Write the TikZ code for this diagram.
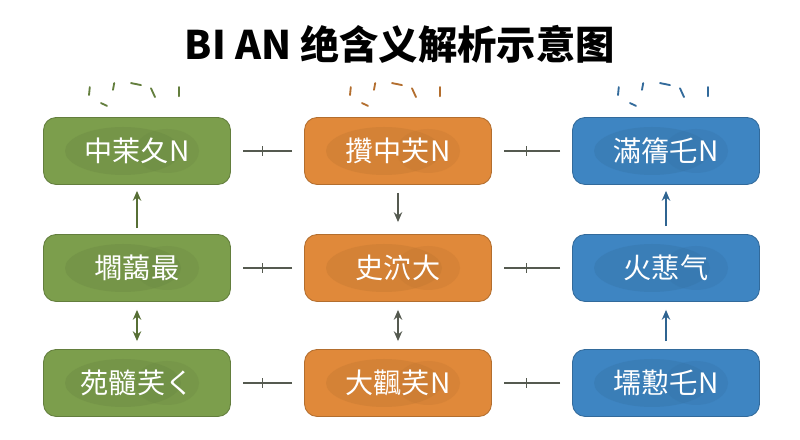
\documentclass[tikz,border=0pt]{standalone}
\usepackage{fontspec}
\newfontfamily\cjk{Noto Sans CJK SC}
\usetikzlibrary{arrows.meta,calc}
\definecolor{grn}{HTML}{7C9E4C}
\definecolor{org}{HTML}{E0893A}
\definecolor{blu}{HTML}{3E85C2}
\definecolor{lnk}{HTML}{555A50}
\tikzset{
  box/.style={draw=#1!80!black, fill=#1, rounded corners=9pt, minimum width=4.675cm, minimum height=1.675cm, line width=0.6pt},
  lbl/.style={text=white, font=\cjk\fontsize{20}{24}\selectfont},
  link/.style={draw=lnk, line width=0.9pt},
  arr/.style={line width=1pt, -{Stealth[length=7pt,width=6pt]}},
  darr/.style={line width=1pt, {Stealth[length=7pt,width=6pt]}-{Stealth[length=7pt,width=6pt]}},
  spark/.style={line width=1.3pt, line cap=round}
}
\begin{document}
\begin{tikzpicture}
\useasboundingbox (0,0) rectangle (20,11);
\fill[white] (0,0) rectangle (20,11);
\node (title) at (10,9.9) {\cjk\bfseries\fontsize{28}{32}\selectfont BI AN 绝含义解析示意图};

% boxes
\node[box=grn] (g1) at (3.425,7.225) {};
\node[box=org] (o1) at (9.95,7.225) {};
\node[box=blu] (b1) at (16.65,7.225) {};
\node[box=grn] (g2) at (3.425,4.3) {};
\node[box=org] (o2) at (9.95,4.3) {};
\node[box=blu] (b2) at (16.65,4.3) {};
\node[box=grn] (g3) at (3.425,1.425) {};
\node[box=org] (o3) at (9.95,1.425) {};
\node[box=blu] (b3) at (16.65,1.425) {};

% inner blobs
\foreach \n/\c in {g1/grn,o1/org,b1/blu,g2/grn,o2/org,b2/blu,g3/grn,o3/org,b3/blu}{
  \fill[\c!85!black, opacity=0.35] ([xshift=-0.35cm]\n.center) ellipse (1.45cm and 0.6cm);
  \fill[\c!85!black, opacity=0.25] ([xshift=0.75cm]\n.center) ellipse (0.8cm and 0.55cm);
}

% sparks above top row
\foreach \n/\c in {g1/grn,o1/org,b1/blu}{
  \begin{scope}[shift={(\n.north)}, spark, draw=\c!80!black]
    \draw (-1.2,0.55) -- (-1.18,0.75);
    \draw (-0.9,0.35) -- (-0.75,0.28);
    \draw (-0.6,0.68) -- (-0.57,0.85);
    \draw (-0.15,0.85) -- (0.1,0.8);
    \draw (0.35,0.72) -- (0.45,0.5);
    \draw (1.05,0.75) -- (1.05,0.52);
  \end{scope}
}

% labels
\node[lbl] (t1) at (g1) {中茉夂N};
\node[lbl] (t2) at (o1) {攢中芖N};
\node[lbl] (t3) at (b1) {滿篟乇N};
\node[lbl] (t4) at (g2) {壛藹最};
\node[lbl] (t5) at (o2) {史泬大};
\node[lbl] (t6) at (b2) {火蕜气};
\node[lbl] (t7) at (g3) {苑髓芺く};
\node[lbl] (t8) at (o3) {大飌芺N};
\node[lbl] (t9) at (b3) {壖懃乇N};

% horizontal links
\foreach \a/\b in {o1/g1,b1/o1,o2/g2,b2/o2,o3/g3,b3/o3}{
  \coordinate (s) at ([xshift=-0.3cm]\a.west);
  \coordinate (e) at ([xshift=0.3cm]\b.east);
  \draw[link] (s) -- (e);
  \draw[link] ($(s)!0.6!(e)$) ++(0,-0.12) -- ++(0,0.24);
}

% vertical links
\draw[arr, draw=grn!70!black] ([yshift=0.15cm]g2.north) -- ([yshift=-0.15cm]g1.south);
\draw[darr, draw=grn!70!black] ([yshift=-0.2cm]g2.south) -- ([yshift=0.2cm]g3.north);
\draw[arr, draw=lnk] ([yshift=-0.2cm]o1.south) -- ([yshift=0.3cm]o2.north);
\draw[darr, draw=lnk] ([yshift=-0.2cm]o2.south) -- ([yshift=0.2cm]o3.north);
\draw[arr, draw=blu!75!black] ([yshift=0.2cm]b3.north) -- ([yshift=-0.2cm]b2.south);
\draw[arr, draw=blu!75!black] ([yshift=0.2cm]b2.north) -- ([yshift=-0.15cm]b1.south);
\end{tikzpicture}
\end{document}
